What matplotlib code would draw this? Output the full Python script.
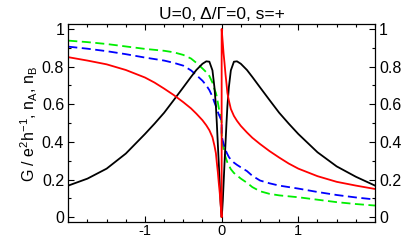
#!/usr/bin/env python3
# plot.py
# Condutancia G e ocupacoes n_A, n_B em funcao da energia (U=0, Delta/Gamma=0, s=+).
# Valores; x=0 aparece duas vezes por causa do
# salto de n_A na origem.

import matplotlib
matplotlib.use("Agg")
import matplotlib.pyplot as plt
from matplotlib.ticker import MultipleLocator

plt.rcParams["font.family"] = ["Liberation Sans", "DejaVu Sans"]
plt.rcParams["mathtext.fontset"] = "custom"
plt.rcParams["mathtext.rm"] = "Liberation Sans"
plt.rcParams["mathtext.it"] = "Liberation Sans"
plt.rcParams["axes.unicode_minus"] = False

# eixo x: lado esquerdo, origem (duas vezes), lado direito
X = [-2.0, -1.75, -1.5, -1.25, -1.0, -0.875, -0.75, -0.625, -0.5, -0.4, -0.33,
     -0.25, -0.2, -0.16, -0.12, -0.094, -0.075, -0.063, -0.05, -0.037, -0.025,
     -0.015, -0.007, 0.0,
     0.0, 0.007, 0.015, 0.025, 0.037, 0.05, 0.063, 0.075, 0.094, 0.12, 0.16,
     0.2, 0.25, 0.33, 0.4, 0.5, 0.625, 0.75, 0.875, 1.0, 1.25, 1.5, 1.75, 2.0]

G = [0.168, 0.205, 0.258, 0.338, 0.442, 0.497, 0.555, 0.622, 0.69, 0.745, 0.782,
     0.815, 0.828, 0.826, 0.78, 0.69, 0.59, 0.50, 0.39, 0.283, 0.177,
     0.088, 0.035, 0.0,
     0.0, 0.035, 0.088, 0.177, 0.283, 0.39, 0.50, 0.59, 0.69, 0.78, 0.826,
     0.828, 0.815, 0.782, 0.745, 0.69, 0.622, 0.555, 0.497, 0.442, 0.345,
     0.27, 0.215, 0.168]

N_A = [0.85, 0.832, 0.812, 0.782, 0.742, 0.715, 0.683, 0.649, 0.611, 0.578,
       0.55, 0.515, 0.488, 0.462, 0.425, 0.38, 0.34, 0.29, 0.24, 0.18, 0.13,
       0.076, 0.035, 0.0,
       1.0, 0.965, 0.924, 0.87, 0.82, 0.76, 0.71, 0.66, 0.62, 0.575, 0.538,
       0.512, 0.485, 0.45, 0.422, 0.389, 0.351, 0.317, 0.285, 0.258, 0.218,
       0.188, 0.168, 0.15]

N_B_AZUL = [0.906, 0.895, 0.882, 0.866, 0.848, 0.84, 0.832, 0.82, 0.805, 0.78,
            0.755, 0.725, 0.70, 0.675, 0.64, 0.61, 0.59, 0.575, 0.56, 0.545,
            0.535, 0.525, 0.52, 0.50,
            0.44, 0.42, 0.405, 0.39, 0.375, 0.36, 0.345, 0.335, 0.32, 0.305,
            0.29, 0.278, 0.265, 0.245, 0.22, 0.195, 0.18, 0.168, 0.16,
            0.152, 0.134, 0.118, 0.105, 0.094]

N_B_VERDE = [0.938, 0.93, 0.92, 0.907, 0.894, 0.889, 0.884, 0.876, 0.862, 0.843,
             0.82, 0.79, 0.77, 0.75, 0.715, 0.68, 0.66, 0.64, 0.61, 0.58,
             0.555, 0.535, 0.52, 0.50,
             0.44, 0.41, 0.385, 0.36, 0.34, 0.32, 0.305, 0.29, 0.275, 0.255,
             0.235, 0.222, 0.205, 0.183, 0.16, 0.138, 0.124, 0.116, 0.111,
             0.106, 0.093, 0.08, 0.07, 0.062]


def main():
    fig = plt.figure(figsize=(4.03, 2.40), dpi=100)
    ax = fig.add_axes([0.1695, 0.073, 0.761, 0.826])

    lw = 1.3
    ax.plot(X, N_B_VERDE, color="#00ee00", lw=lw, dashes=(5, 2.5))
    ax.plot(X, N_B_AZUL, color="#0000ff", lw=lw, dashes=(5, 2.5))
    ax.plot(X, G, color="black", lw=lw)
    ax.plot(X, N_A, color="#ff0000", lw=lw)

    ax.set_xlim(-2, 2)
    ax.set_ylim(-0.028, 1.025)
    ax.set_xticks([-1, 0, 1])
    ax.set_xticklabels(["-1", "0", "1"])
    ax.xaxis.set_minor_locator(MultipleLocator(0.25))
    ax.set_yticks([0, 0.2, 0.4, 0.6, 0.8, 1.0])
    ax.set_yticklabels(["0", "0.2", "0.4", "0.6", "0.8", "1"])
    ax.yaxis.set_minor_locator(MultipleLocator(0.1))
    ax.tick_params(which="both", direction="in", top=True, right=True,
                   labelright=True, labelsize=11.5, width=0.8)
    ax.tick_params(which="major", length=4, pad=3)
    ax.tick_params(which="minor", length=2.5)
    ax.tick_params(axis="x", which="major", labelsize=10.5, pad=1)
    for s in ax.spines.values():
        s.set_linewidth(0.9)

    ax.set_title("U=0, \u0394/\u0393=0, s=+", fontsize=12.5, pad=4)
    ax.set_ylabel(r"G / e$^{2}$h$^{-1}$, n$_{A}$, n$_{B}$", fontsize=11.5,
                  labelpad=1)

    fig.savefig("out.png", dpi=100)
    plt.close(fig)


if __name__ == "__main__":
    main()
